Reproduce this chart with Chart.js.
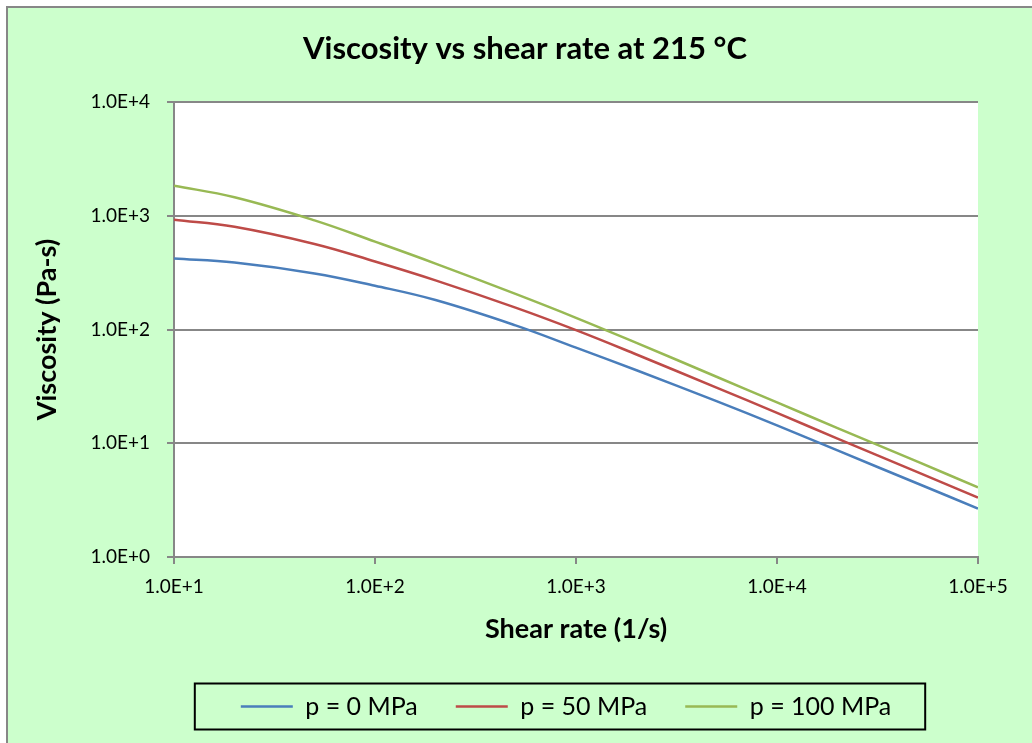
<!DOCTYPE html>
<html>
<head>
<meta charset="utf-8">
<script src="https://cdn.jsdelivr.net/npm/chart.js@4.4.1/dist/chart.umd.min.js"></script>
<style>
  html, body { margin: 0; padding: 0; background: #fff; }
  #wrap { width: 1032px; height: 743px; }
</style>
</head>
<body>
<div id="wrap"><canvas id="viscosidade" width="1032" height="743"></canvas></div>
<script>
  // dados
  const shearRate = [10, 20, 50, 100, 200, 500, 1000, 2000, 5000, 10000, 20000, 50000, 100000];
  const eta0 = [423, 389, 312, 243, 182, 109, 69.4, 43.9, 23.5, 14.4, 8.65, 4.43, 2.67];
  const eta50 = [927, 802, 566, 397, 271, 156, 98.9, 60.4, 30.9, 18.5, 11.0, 5.57, 3.33];
  const eta100 = [1845, 1459, 914, 594, 381, 206, 127, 76.4, 38.5, 22.9, 13.6, 6.89, 4.10];
  const seriesNames = ['p = 0 MPa', 'p = 50 MPa', 'p = 100 MPa'];
  const xTicks = [10, 100, 1000, 10000, 100000];
  const yTicks = [1, 10, 100, 1000, 10000];

  const cores = ['#4A7EBB', '#BE4B48', '#98B954'];
  const cinza = '#878787';

  function pontos(ys) {
    return shearRate.map((x, i) => ({ x: x, y: ys[i] }));
  }

  function sci(v) {
    const e = Math.round(Math.log10(v));
    return '1.0E' + (e >= 0 ? '+' : '') + e;
  }

  // fundo verde, borda e area branca do grafico
  const fundo = {
    id: 'fundo',
    beforeDraw(chart) {
      const ctx = chart.ctx;
      const a = chart.chartArea;
      ctx.save();
      ctx.fillStyle = '#fff';
      ctx.fillRect(0, 0, chart.width, chart.height);
      ctx.fillStyle = '#CCFFCC';
      ctx.fillRect(8, 8, chart.width - 8, chart.height - 8);
      ctx.fillStyle = cinza;
      ctx.fillRect(6, 6, chart.width - 6, 2);
      ctx.fillRect(6, 6, 2, chart.height - 6);
      ctx.fillStyle = '#fff';
      ctx.fillRect(a.left, a.top, a.right - a.left, a.bottom - a.top);
      ctx.restore();
    }
  };

  // titulo e legenda deslocados, legenda com caixa preta
  const ajustes = {
    id: 'ajustes',
    afterLayout(chart) {
      const tb = chart.titleBlock;
      const ts = 525 - (tb.left + tb.right) / 2;
      tb.left += ts;
      tb.right += ts;
      const lg = chart.legend;
      const shift = 566 - (lg.left + lg.right) / 2;
      lg.left += shift;
      lg.right += shift;
    },
    afterDraw(chart) {
      const boxes = chart.legend.legendHitBoxes;
      if (!boxes || !boxes.length) return;
      const l = Math.min(...boxes.map(b => b.left));
      const r = Math.max(...boxes.map(b => b.left + b.width));
      const cy = boxes[0].top + boxes[0].height / 2;
      const ctx = chart.ctx;
      ctx.save();
      ctx.strokeStyle = '#000';
      ctx.lineWidth = 2;
      ctx.strokeRect(l - 46, cy - 23, (r - l) + 80, 46);
      ctx.restore();
    }
  };

  Chart.defaults.font.family = 'Lato, "Open Sans", sans-serif';
  Chart.defaults.color = '#000';

  new Chart(document.getElementById('viscosidade'), {
    type: 'line',
    data: {
      datasets: [eta0, eta50, eta100].map((ys, i) => ({
        label: seriesNames[i],
        data: pontos(ys),
        borderColor: cores[i],
        backgroundColor: cores[i],
        borderWidth: 2.5,
        pointRadius: 0,
        pointHoverRadius: 0,
        tension: 0.4,
        fill: false
      }))
    },
    options: {
      responsive: false,
      animation: false,
      layout: { padding: { left: 10, right: 54, top: 8, bottom: 14 } },
      plugins: {
        title: {
          display: true,
          text: 'Viscosity vs shear rate at 215 °C',
          font: { size: 31, weight: 'bold' },
          padding: { top: 22, bottom: 35 }
        },
        legend: {
          position: 'bottom',
          labels: {
            usePointStyle: true,
            pointStyle: 'line',
            pointStyleWidth: 52,
            padding: 38,
            font: { size: 25 }
          }
        },
        tooltip: { enabled: false }
      },
      scales: {
        x: {
          type: 'logarithmic',
          min: 10,
          max: 100000,
          afterBuildTicks: s => { s.ticks = xTicks.map(v => ({ value: v })); },
          afterFit: s => { s.height = 99; },
          ticks: { callback: v => sci(v), font: { size: 19 }, padding: 11, maxRotation: 0 },
          grid: { drawOnChartArea: false, drawTicks: true, tickLength: 7, color: cinza, lineWidth: 2 },
          border: { color: cinza, width: 2 },
          title: { display: true, text: 'Shear rate (1/s)', font: { size: 27, weight: 'bold' }, padding: { top: 0, bottom: 11 } }
        },
        y: {
          type: 'logarithmic',
          min: 1,
          max: 10000,
          afterBuildTicks: s => { s.ticks = yTicks.map(v => ({ value: v })); },
          afterFit: s => { s.width = 164; },
          ticks: { callback: v => sci(v), font: { size: 19 }, padding: 17 },
          grid: { drawTicks: true, tickLength: 7, color: cinza, lineWidth: 2 },
          border: { color: cinza, width: 2 },
          title: { display: true, text: 'Viscosity (Pa-s)', font: { size: 27, weight: 'bold' }, padding: { top: 21, bottom: 0 } }
        }
      }
    },
    plugins: [fundo, ajustes]
  });
</script>
</body>
</html>
